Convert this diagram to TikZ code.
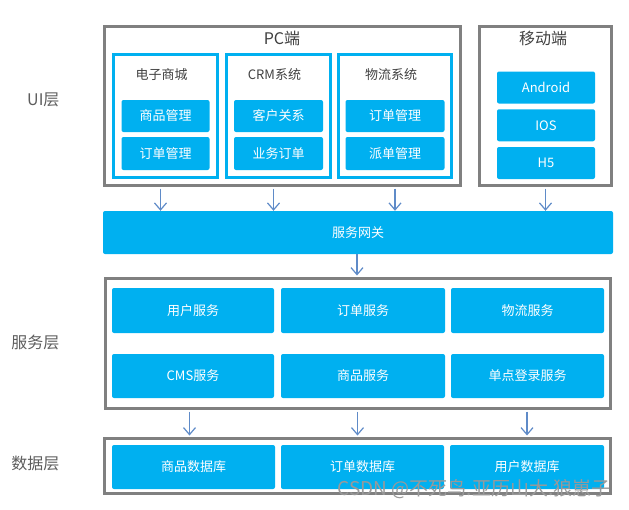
\documentclass[tikz,border=0pt]{standalone}
\usepackage{fontspec}
\setmainfont{Noto Sans CJK SC}
\usepackage{xcolor}
\usepackage{tikz}
\usetikzlibrary{arrows.meta, positioning, calc}
\definecolor{skyblue}{HTML}{00B0F0}
\definecolor{framegray}{HTML}{808080}
\definecolor{linkblue}{HTML}{5F8BC8}
\definecolor{labelgray}{HTML}{404040}

\begin{document}
\begin{tikzpicture}[
      x=1pt, y=-1pt,
      frame/.style={draw=framegray, line width=3pt, inner sep=0pt},
      sys/.style={draw=skyblue, line width=2.6pt, inner sep=0pt},
      item/.style={fill=skyblue, text=white, rounded corners=2pt, inner sep=0pt,
        font=\fontsize{13}{15}\selectfont},
      title/.style={text=labelgray, font=\fontsize{13}{15}\selectfont},
      head/.style={text=labelgray, font=\fontsize{16}{18}\selectfont},
      layer/.style={text=labelgray!85, anchor=east, font=\fontsize{16}{18}\selectfont},
      flow/.style={draw=linkblue, line width=1.2pt, -{Straight Barb[length=7pt, width=12pt]}},
    ]
    \useasboundingbox (0,0) rectangle (629,509);
    % layer labels
    \node[layer] (uil) at (63,100) {UI层};
    \node[layer] (svl) at (63,342) {服务层};
    \node[layer] (dbl) at (63,463) {数据层};
    % UI layer: PC and mobile frames
    \node[frame, minimum width=356pt, minimum height=159pt] (pc) at (282.5,106) {};
    \node[head] (pct) at (282,38) {PC端};
    \node[frame, minimum width=132pt, minimum height=159pt] (mob) at (545.5,106) {};
    \node[head] (mobt) at (543,38) {移动端};
    \foreach \n/\cx/\w/\iw/\ttl/\itA/\itB in {%
        ec/165.5/104/88/电子商城/商品管理/订单管理,
        crm/278.5/104/89/CRM系统/客户关系/业务订单,
        lg/395/113/99/物流系统/订单管理/派单管理} {
      \node[sys, minimum width=\w pt, minimum height=123pt] (\n) at (\cx,116) {};
      \node[title] (\n-t) at (\cx-4,75) {\ttl};
      \node[item, minimum width=\iw pt, minimum height=32pt] (\n-a) at (\cx,116) {\itA};
      \node[item, minimum width=\iw pt, minimum height=33pt] (\n-b) at (\cx,153.5) {\itB};
    }
    \foreach \lab [count=\i from 0] in {Android, IOS, H5}
      \node[item, minimum width=98pt, minimum height=32pt] (m\i) at (546,87.5+37.75*\i) {\lab};
    % gateway
    \node[item, minimum width=510pt, minimum height=43pt] (gw) at (358,232.5) {服务网关};
    \foreach \n/\dx in {ec/-5, crm/-5, lg/0, mob/0}
      \draw[flow] ($(\n.south |- pc.south)+(\dx,1.5)$) -- ($(\n.south |- gw.north)+(\dx,0)$);
    % service layer
    \node[frame, minimum width=505pt, minimum height=130pt] (svc) at (358,343.5) {};
    \foreach \n/\cx/\w/\itA/\itB in {%
        1/193/162/用户服务/CMS服务,
        2/363/164/订单服务/商品服务,
        3/527.5/153/物流服务/单点登录服务} {
      \node[item, minimum width=\w pt, minimum height=45pt] (s\n a) at (\cx,310.5) {\itA};
      \node[item, minimum width=\w pt, minimum height=44pt] (s\n b) at (\cx,376) {\itB};
    }
    \draw[flow] ($(gw.south)+(-1,0)$) -- ($(gw.south |- svc.north)+(-1,-1.5)$);
    % data layer
    \node[frame, minimum width=506pt, minimum height=55pt] (db) at (357.5,466) {};
    \foreach \n/\cx/\w/\lab in {%
        d1/193.5/163/商品数据库, d2/362.5/163/订单数据库, d3/527/154/用户数据库}
      \node[item, minimum width=\w pt, minimum height=44pt] (\n) at (\cx,467) {\lab};
    \foreach \n/\dx in {d1/-4, d2/-5, d3/0}
      \draw[flow] ($(\n |- svc.south)+(\dx,1.5)$) -- ($(\n |- db.north)+(\dx,-1.5)$);
    % watermark
    \node[anchor=east, text=black!40, font=\fontsize{19}{21}\selectfont] (mark)
      at (614,489) {CSDN @不死鸟.亚历山大.狼崽子};
  \end{tikzpicture}
\end{document}
